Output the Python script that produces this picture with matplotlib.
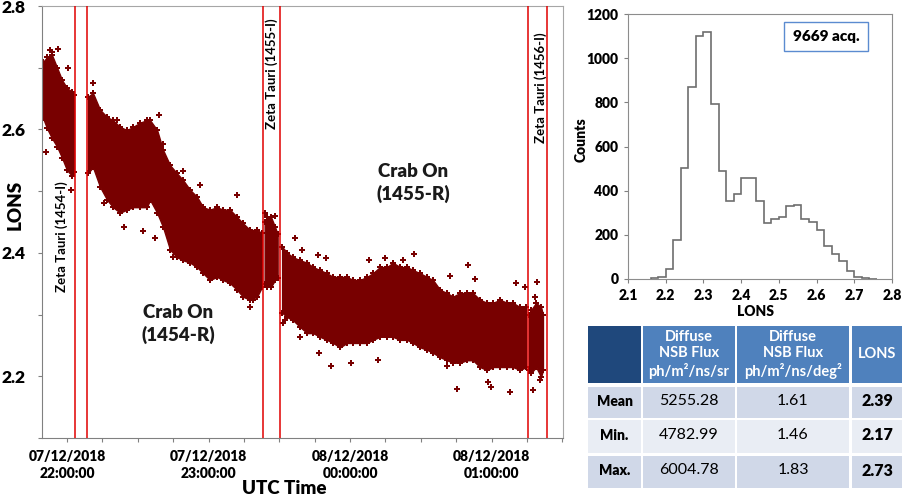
import matplotlib
matplotlib.use('Agg')
import matplotlib.pyplot as plt
from matplotlib.patches import Rectangle
import numpy as np

plt.rcParams['font.family'] = ['Lato', 'DejaVu Sans']
plt.rcParams['font.weight'] = 'bold'
HV = 'heavy'

# ---------------- data ----------------
# time axis: minutes after 07/12/2018 22:00:00 UTC
# dense cloud of LONS values: per run, time knots with upper/lower edge of the cloud
seg1_t  = [-10.2, -8.5, -6.4, -4.2, -2.1, 0.0, 2.1, 3.0]
seg1_hi = [2.709, 2.717, 2.721, 2.700, 2.680, 2.667, 2.661, 2.656]
seg1_lo = [2.619, 2.602, 2.586, 2.572, 2.554, 2.534, 2.525, 2.531]

seg2_t  = [8.9, 11.0, 14.0, 17.0, 19.5, 22.5, 25.4, 28.0, 31.0, 33.9, 35.2, 38.2, 40.7, 43.7,
           46.6, 49.2, 52.2, 55.1, 57.7, 60.6, 63.6, 66.1, 69.1, 72.1, 74.6, 77.6, 80.6, 82.7]
seg2_hi = [2.653, 2.659, 2.632, 2.620, 2.615, 2.604, 2.599, 2.604, 2.611, 2.615, 2.615, 2.599,
           2.567, 2.542, 2.529, 2.518, 2.502, 2.491, 2.474, 2.470, 2.474, 2.470, 2.470, 2.458,
           2.448, 2.437, 2.437, 2.432]
seg2_lo = [2.529, 2.539, 2.507, 2.486, 2.474, 2.465, 2.470, 2.474, 2.474, 2.474, 2.486, 2.465,
           2.442, 2.405, 2.393, 2.388, 2.384, 2.377, 2.367, 2.356, 2.361, 2.356, 2.351, 2.340,
           2.329, 2.324, 2.329, 2.345]

seg2b_t  = [83.8, 84.9, 86.5, 88.2, 89.3]
seg2b_hi = [2.450, 2.458, 2.458, 2.442, 2.430]
seg2b_lo = [2.350, 2.345, 2.345, 2.356, 2.360]

seg3_t  = [91.2, 93.3, 95.8, 98.8, 101.8, 104.3, 107.3, 110.2, 112.8, 115.8, 118.7, 121.3, 124.2,
           127.2, 129.7, 132.7, 135.7, 138.2, 141.2, 144.2, 146.7, 149.7, 152.6, 155.2, 158.2,
           161.1, 163.7, 166.6, 169.6, 172.1, 175.1, 178.1, 180.6, 183.6, 186.6, 189.1, 192.1, 194.6]
seg3_hi = [2.410, 2.400, 2.393, 2.388, 2.384, 2.377, 2.372, 2.367, 2.361, 2.361, 2.361, 2.356,
           2.356, 2.361, 2.367, 2.377, 2.377, 2.384, 2.377, 2.377, 2.372, 2.367, 2.361, 2.356,
           2.340, 2.335, 2.329, 2.335, 2.335, 2.335, 2.324, 2.319, 2.319, 2.324, 2.319, 2.319,
           2.312, 2.312]
seg3_lo = [2.303, 2.296, 2.291, 2.280, 2.270, 2.270, 2.264, 2.259, 2.254, 2.247, 2.254, 2.254,
           2.254, 2.254, 2.259, 2.264, 2.264, 2.264, 2.259, 2.259, 2.254, 2.247, 2.243, 2.238,
           2.231, 2.226, 2.222, 2.222, 2.226, 2.226, 2.215, 2.210, 2.215, 2.215, 2.215, 2.215,
           2.210, 2.215]

seg4_t  = [195.9, 196.7, 198.9, 201.0, 201.8]
seg4_hi = [2.300, 2.307, 2.319, 2.312, 2.300]
seg4_lo = [2.210, 2.205, 2.215, 2.199, 2.210]

# isolated acquisitions outside the dense cloud
out_t = [-7.2, -3.7, -6.5, 0.6, -8.9, 1.7, 11.2, 39.1, 35.2, 15.7, 24.2, 32.1, 37.3, 44.8, 21.1,
         40.8, 49.3, 56.4, 72.0, 84.0, 77.6, 79.0, 67.7, 88.2, 92.4, 96.7, 99.5, 106.3, 109.7,
         128.0, 134.8, 111.9, 120.4, 131.7, 107.0, 98.8, 91.7, 147.3, 170.2, 142.6, 162.4, 173.0,
         165.5, 187.8, 179.6, 199.4, 198.4, 197.6, 200.6, 194.2, 190.4, 161.0, 178.6]
out_v = [2.729, 2.730, 2.726, 2.699, 2.564, 2.502, 2.675, 2.624, 2.615, 2.481, 2.442, 2.436,
         2.424, 2.394, 2.615, 2.576, 2.532, 2.510, 2.494, 2.464, 2.313, 2.324, 2.367, 2.459,
         2.291, 2.424, 2.405, 2.397, 2.391, 2.388, 2.391, 2.216, 2.221, 2.226, 2.237, 2.264,
         2.286, 2.398, 2.381, 2.388, 2.363, 2.358, 2.179, 2.174, 2.182, 2.352, 2.329, 2.178,
         2.194, 2.344, 2.351, 2.216, 2.191]

# observation boundaries (minutes after 22:00)
run_edges = [3.26, 8.35, 83.2, 90.4, 195.3, 203.6]

time_ticks = [0, 60, 120, 180]
time_labels = ['07/12/2018\n22:00:00', '07/12/2018\n23:00:00',
               '08/12/2018\n00:00:00', '08/12/2018\n01:00:00']

# histogram of LONS
hist_edges = [round(2.16 + 0.02 * i, 2) for i in range(31)]
hist_counts = [3, 10, 45, 177, 501, 868, 1102, 1118, 791, 487, 355, 385, 459, 456, 352,
               252, 273, 279, 331, 335, 272, 257, 222, 149, 113, 81, 36, 10, 4, 1]
n_acq = 9669

# summary table
row_labels = ['Mean', 'Min.', 'Max.']
col_headers = ['Diffuse\nNSB Flux\nph/m²/ns/sr', 'Diffuse\nNSB Flux\nph/m²/ns/deg²', 'LONS']
flux_sr = ['5255.28', '4782.99', '6004.78']
flux_deg = ['1.61', '1.46', '1.83']
lons_stats = ['2.39', '2.17', '2.73']

# ---------------- figure ----------------
W, H = 902, 501
fig = plt.figure(figsize=(W / 100, H / 100), dpi=100)
maroon = '#780000'

def fa(l, t, r, b):
    return [l / W, 1 - b / H, (r - l) / W, (b - t) / H]

ax = fig.add_axes(fa(42, 6, 563, 438))
for t, hi, lo in [(seg1_t, seg1_hi, seg1_lo), (seg2_t, seg2_hi, seg2_lo),
                  (seg2b_t, seg2b_hi, seg2b_lo), (seg3_t, seg3_hi, seg3_lo),
                  (seg4_t, seg4_hi, seg4_lo)]:
    ax.fill_between(t, lo, hi, color=maroon, lw=1.0, edgecolor=maroon, zorder=2)
    ax.plot(t, hi, ls='none', marker='P', ms=4.6, mew=0, color=maroon, zorder=2)
    ax.plot(t, lo, ls='none', marker='P', ms=4.6, mew=0, color=maroon, zorder=2)
ax.plot(out_t, out_v, ls='none', marker='P', ms=4.6, mew=0, color=maroon, zorder=2)

for e in run_edges:
    ax.axvline(e, color='#e00000', lw=1.1, zorder=3)

ax.set_xlim(-10.6, 210.3)
ax.set_ylim(2.1, 2.8)
ax.set_yticks([2.2, 2.4, 2.6, 2.8])
ax.set_yticklabels(['2.2', '2.4', '2.6', '2.8'], fontsize=12.5, fontweight=HV)
ax.set_yticks([2.1, 2.3, 2.5, 2.7], minor=True)
ax.set_xticks(time_ticks)
ax.set_xticklabels(time_labels, fontsize=10, fontweight=HV, linespacing=1.35)
ax.set_xticks([m for m in range(15, 211, 15) if m not in time_ticks], minor=True)
ax.tick_params(axis='both', which='both', direction='out', length=3, width=0.8, color='#808080')
ax.tick_params(axis='y', pad=9)
ax.tick_params(axis='x', pad=6)
for side in ['left', 'bottom']:
    ax.spines[side].set_color('#808080')
for side in ['top', 'right']:
    ax.spines[side].set_color('#a6a6a6')

txt_kw = dict(rotation=90, ha='center', va='center', fontsize=9.5, fontweight='bold', color='black')
ax.text(-2.1, 2.426, 'Zeta Tauri (1454-I)', **txt_kw)
ax.text(86.9, 2.69, 'Zeta Tauri (1455-I)', **txt_kw)
ax.text(201.0, 2.667, 'Zeta Tauri (1456-I)', **txt_kw)
ax.text(47.1, 2.285, 'Crab On\n(1454-R)', ha='center', va='center', fontsize=13.5,
        fontweight=HV, linespacing=1.35, color='#1a1a1a')
ax.text(146.7, 2.513, 'Crab On\n(1455-R)', ha='center', va='center', fontsize=13.5,
        fontweight=HV, linespacing=1.35, color='#1a1a1a')

fig.text(15 / W, 1 - 205 / H, 'LONS', rotation=90, ha='center', va='center',
         fontsize=13.5, fontweight=HV)
fig.text(284 / W, 1 - 489 / H, 'UTC Time', ha='center', va='center',
         fontsize=13.5, fontweight=HV)

# ---------------- histogram ----------------
axh = fig.add_axes(fa(628, 14, 892, 279))
axh.stairs(hist_counts, hist_edges, color='#6e6e6e', lw=1.2, baseline=0)
axh.set_xlim(2.1, 2.8)
axh.set_ylim(0, 1200)
hx = [2.1, 2.2, 2.3, 2.4, 2.5, 2.6, 2.7, 2.8]
hy = list(range(0, 1201, 200))
axh.set_xticks(hx)
axh.set_xticklabels([f'{v:.1f}' for v in hx], fontsize=10, fontweight=HV)
axh.set_yticks(hy)
axh.set_yticklabels([str(v) for v in hy], fontsize=10, fontweight=HV)
axh.tick_params(axis='both', direction='out', length=3, width=0.8, color='#808080', pad=4)
for s in axh.spines.values():
    s.set_color('#8c8c8c')
fig.text(581 / W, 1 - 140 / H, 'Counts', rotation=90, ha='center', va='center',
         fontsize=10, fontweight=HV)
fig.text(755 / W, 1 - 312 / H, 'LONS', ha='center', va='center',
         fontsize=10, fontweight=HV)
axh.text(0.75, 0.915, f'{n_acq} acq.', transform=axh.transAxes, ha='center', va='center',
         fontsize=11, fontweight=HV,
         bbox=dict(boxstyle='square,pad=0.55', fc='white', ec='#5b8bd0', lw=1))

# ---------------- table ----------------
axt = fig.add_axes(fa(588, 326, 902, 488))
axt.set_xlim(588, 902)
axt.set_ylim(488, 326)
axt.axis('off')
cols = [(588, 641), (643, 735), (737, 849), (852, 902)]
rows = [(326, 383), (387, 418), (420, 453), (456, 488)]
hdr_dark, hdr_blue = '#1f487c', '#4f81bd'
band = ['#d0d8e8', '#e9edf4', '#d0d8e8']
for ci, (x0, x1) in enumerate(cols):
    y0, y1 = rows[0]
    axt.add_patch(Rectangle((x0, y0), x1 - x0, y1 - y0, fc=hdr_dark if ci == 0 else hdr_blue,
                            ec='none'))
    if ci > 0:
        axt.text((x0 + x1) / 2, (y0 + y1) / 2, col_headers[ci - 1], ha='center', va='center',
                 color='white', fontsize=10.5, fontweight='bold', linespacing=1.2)
for ri in range(3):
    y0, y1 = rows[ri + 1]
    vals = [row_labels[ri], flux_sr[ri], flux_deg[ri], lons_stats[ri]]
    for ci, (x0, x1) in enumerate(cols):
        axt.add_patch(Rectangle((x0, y0), x1 - x0, y1 - y0, fc=band[ri], ec='none'))
        if ci == 0:
            fw = HV
        elif ci == 3:
            fw = HV
        else:
            fw = 'normal'
        axt.text((x0 + x1) / 2, (y0 + y1) / 2 - 1.5, vals[ci], ha='center', va='center',
                 color='black', fontsize=10 if ci == 0 else 11.5, fontweight=fw)

fig.savefig('out.png', dpi=100)
